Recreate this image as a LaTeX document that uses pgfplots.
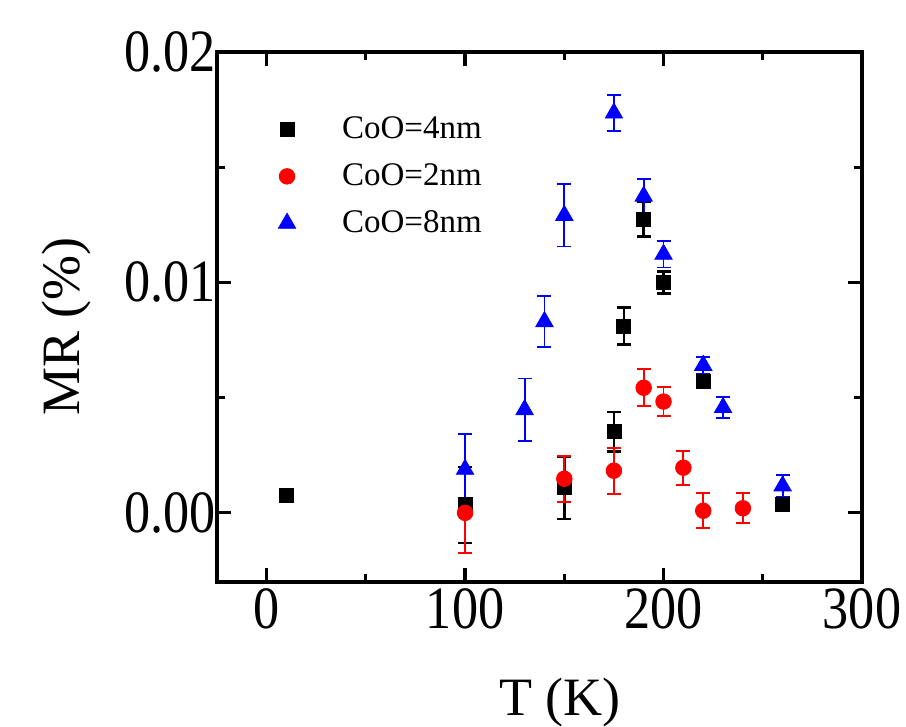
\documentclass[border=0pt]{standalone}
\usepackage{fontspec}
\setmainfont{Liberation Serif}
\usepackage{pgfplots}
\pgfplotsset{compat=1.18}

\newcommand{\tk}[1]{\scalebox{0.87}[1]{#1}}

\begin{document}
\begin{tikzpicture}
\begin{axis}[
  name=ax,
  scale only axis,
  width=322.5pt, height=265pt,
  xmin=-25, xmax=300,
  ymin=-0.003, ymax=0.02,
  xtick={0,100,200,300},
  xticklabels={\tk{0},\tk{100},\tk{200},\tk{300}},
  ytick={0,0.01,0.02},
  yticklabels={\tk{0.00},\tk{0.01},\tk{0.02}},
  scaled y ticks=false,
  minor x tick num=1, minor y tick num=1,
  tick align=inside,
  major tick length=7pt, minor tick length=4pt,
  every tick/.style={black, line width=1.6pt},
  axis line style={line width=2pt},
  ticklabel style={font=\fontsize{30}{30}\selectfont},
  yticklabel style={xshift=3pt},
  xlabel={T (K)},
  ylabel={MR (\%)},
  label style={font=\fontsize{27}{27}\selectfont},
  xlabel style={at={(axis description cs:0.532,-0.2528)}, anchor=base},
  ylabel style={at={(axis description cs:-0.2124,0.482)}, anchor=base},
  legend cell align=left,
  legend style={at={(axis description cs:0.077,0.893)}, anchor=north west,
    draw=none, fill=none, font=\fontsize{16.5}{18}\selectfont, row sep=7pt},
  legend image code/.code={\draw[#1] plot coordinates {(0pt,0pt)}; \path[draw=none,fill=none] (-7pt,0pt) -- (25.5pt,0pt);},
  clip=false,
]
% CoO = 4 nm
\addplot[only marks, mark=square*, mark size=3.5pt, black,
  error bars/.cd, y dir=both, y explicit,
  error bar style={line width=1.2pt, black},
  error mark options={rotate=90, mark size=3.5pt, line width=1.2pt, black}]
  coordinates {
  (10,0.00074) +- (0,0)
  (100,0.00035) +- (0,0.00165)
  (150,0.00109) +- (0,0.00135)
  (175,0.00352) +- (0,0.00085)
  (180,0.00811) +- (0,0.0008)
  (190,0.01274) +- (0,0.00074)
  (200,0.0100) +- (0,0.00048)
  (220,0.0057) +- (0,0.0002)
  (260,0.00035) +- (0,0.0001)
};
\addlegendentry{CoO=4nm}
% CoO = 2 nm
\addplot[only marks, mark=*, mark size=3.9pt, red,
  error bars/.cd, y dir=both, y explicit,
  error bar style={line width=0.9pt, red},
  error mark options={rotate=90, mark size=3.5pt, line width=0.9pt, red}]
  coordinates {
  (100,0.0) +- (0,0.00175)
  (150,0.00148) +- (0,0.001)
  (175,0.00183) +- (0,0.001)
  (190,0.00543) +- (0,0.0008)
  (200,0.00483) +- (0,0.00063)
  (210,0.00196) +- (0,0.00074)
  (220,0.00009) +- (0,0.00076)
  (240,0.0002) +- (0,0.00065)
};
\addlegendentry{CoO=2nm}
% CoO = 8 nm
\addplot[only marks, mark=triangle*, mark size=5pt, blue,
  error bars/.cd, y dir=both, y explicit,
  error bar style={line width=0.9pt, blue},
  error mark options={rotate=90, mark size=3.5pt, line width=0.9pt, blue}]
  coordinates {
  (100,0.00189) +- (0,0.00154)
  (130,0.00448) +- (0,0.00135)
  (140,0.0083) +- (0,0.0011)
  (150,0.01291) +- (0,0.00135)
  (175,0.01735) +- (0,0.00078)
  (190,0.01374) +- (0,0.00074)
  (200,0.01122) +- (0,0.00057)
  (220,0.0064) +- (0,0.00035)
  (230,0.00457) +- (0,0.00046)
  (260,0.00117) +- (0,0.00048)
};
\addlegendentry{CoO=8nm}
\end{axis}
\pgfresetboundingbox
\path[use as bounding box] ([xshift=-108.5pt,yshift=-72.5pt]ax.south west) rectangle ([xshift=22pt,yshift=26pt]ax.north east);
\end{tikzpicture}
\end{document}
